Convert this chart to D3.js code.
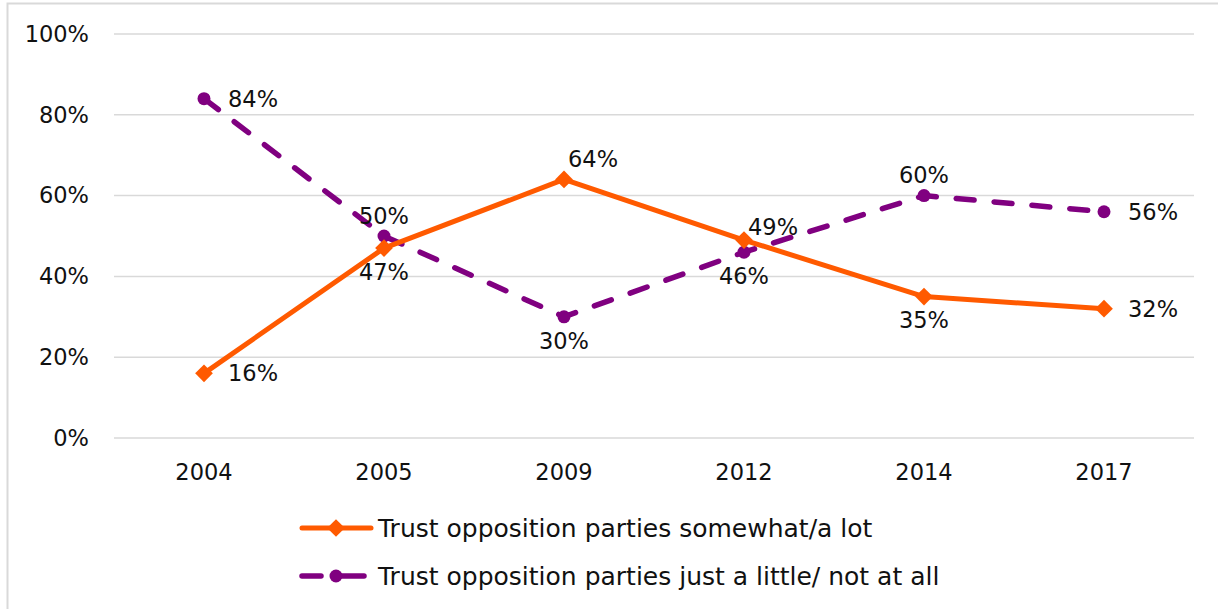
<!DOCTYPE html>
<html>
<head>
<meta charset="utf-8">
<script src="https://cdn.jsdelivr.net/npm/d3@7"></script>
<style>
  html, body { margin: 0; padding: 0; background: #fff; }
  svg text { font-family: "DejaVu Sans", sans-serif; fill: #111; }
</style>
</head>
<body>
<svg id="chart" width="1218" height="609"></svg>
<script>
const years = ["2004", "2005", "2009", "2012", "2014", "2017"];
const trustSomewhat = [16, 47, 64, 49, 35, 32];
const trustLittle = [84, 50, 30, 46, 60, 56];
const yTicks = [0, 20, 40, 60, 80, 100];
const seriesNames = [
  "Trust opposition parties somewhat/a lot",
  "Trust opposition parties just a little/ not at all"
];
// label placement per point: "r" right, "a" above, "b" below,
// "ar" above-right, "nr" just above-right (overlapping the marker)
const somewhatPos = ["r", "b", "ar", "nr", "b", "r"];
const littlePos = ["r", "a", "b", "b", "a", "r"];

const svg = d3.select("#chart");
const W = 1218, H = 609;
const orange = "#FF5A00", purple = "#800080";

// outer frame
svg.append("rect").attr("x", 7.5).attr("y", 3.5).attr("width", W).attr("height", H)
  .attr("fill", "none").attr("stroke", "#d9d9d9").attr("stroke-width", 2);

const x = d3.scaleBand().domain(years).range([114, 1194]);
const y = d3.scaleLinear().domain([0, 100]).range([438, 34]);

// gridlines
svg.append("g").selectAll("line").data(yTicks).join("line")
  .attr("x1", 114).attr("x2", 1194)
  .attr("y1", d => y(d)).attr("y2", d => y(d))
  .attr("stroke", "#d9d9d9").attr("stroke-width", 1.5);

const fs = 22.5;
// y axis labels
svg.append("g").selectAll("text").data(yTicks).join("text")
  .attr("x", 89).attr("y", d => y(d)).attr("dy", "0.35em")
  .attr("text-anchor", "end").attr("font-size", fs)
  .text(d => d + "%");

// x axis labels
svg.append("g").selectAll("text").data(years).join("text")
  .attr("x", d => x(d) + x.bandwidth() / 2).attr("y", 472)
  .attr("dy", "0.35em").attr("text-anchor", "middle").attr("font-size", fs)
  .text(d => d);

const cx = d => x(d) + x.bandwidth() / 2;
const line = d3.line().x(d => cx(d.year)).y(d => y(d.v));

const dataA = years.map((yr, i) => ({ year: yr, v: trustSomewhat[i], pos: somewhatPos[i] }));
const dataB = years.map((yr, i) => ({ year: yr, v: trustLittle[i], pos: littlePos[i] }));

// purple dashed series
svg.append("path").datum(dataB).attr("d", line)
  .attr("fill", "none").attr("stroke", purple).attr("stroke-width", 5.5)
  .attr("stroke-dasharray", "18 20").attr("stroke-linecap", "round");
// orange solid series
svg.append("path").datum(dataA).attr("d", line)
  .attr("fill", "none").attr("stroke", orange).attr("stroke-width", 5)
  .attr("stroke-linejoin", "round");

const diamond = d3.symbol().type(d3.symbolDiamond2).size(200);

svg.append("g").selectAll("circle").data(dataB).join("circle")
  .attr("cx", d => cx(d.year)).attr("cy", d => y(d.v)).attr("r", 6.5)
  .attr("fill", purple);
svg.append("g").selectAll("path").data(dataA).join("path")
  .attr("d", diamond)
  .attr("transform", d => `translate(${cx(d.year)},${y(d.v)})`)
  .attr("fill", orange);

function placeLabels(data) {
  svg.append("g").selectAll("text").data(data).join("text")
    .attr("font-size", fs)
    .attr("x", d => {
      const px = cx(d.year);
      if (d.pos === "r") return px + 24;
      if (d.pos === "ar" || d.pos === "nr") return px + 4;
      return px;
    })
    .attr("y", d => {
      const py = y(d.v);
      if (d.pos === "a" || d.pos === "ar") return py - 20;
      if (d.pos === "nr") return py - 13;
      if (d.pos === "b") return py + 24;
      return py;
    })
    .attr("dy", "0.35em")
    .attr("text-anchor", d => (d.pos === "a" || d.pos === "b") ? "middle" : "start")
    .text(d => d.v + "%");
}
placeLabels(dataA);
placeLabels(dataB);

// legend
const legend = svg.append("g");
const ly = [528, 576];
legend.append("line").attr("x1", 302).attr("x2", 371).attr("y1", ly[0]).attr("y2", ly[0])
  .attr("stroke", orange).attr("stroke-width", 5).attr("stroke-linecap", "round");
legend.append("path").attr("d", diamond).attr("transform", `translate(336,${ly[0]})`).attr("fill", orange);
legend.append("line").attr("x1", 302).attr("x2", 321).attr("y1", ly[1]).attr("y2", ly[1])
  .attr("stroke", purple).attr("stroke-width", 5.5).attr("stroke-linecap", "round");
legend.append("line").attr("x1", 340).attr("x2", 364).attr("y1", ly[1]).attr("y2", ly[1])
  .attr("stroke", purple).attr("stroke-width", 5.5).attr("stroke-linecap", "round");
legend.append("circle").attr("cx", 336).attr("cy", ly[1]).attr("r", 6.5).attr("fill", purple);
legend.selectAll("text").data(seriesNames).join("text")
  .attr("x", 378).attr("y", (d, i) => ly[i]).attr("dy", "0.35em")
  .attr("font-size", 25).text(d => d);
</script>
</body>
</html>
